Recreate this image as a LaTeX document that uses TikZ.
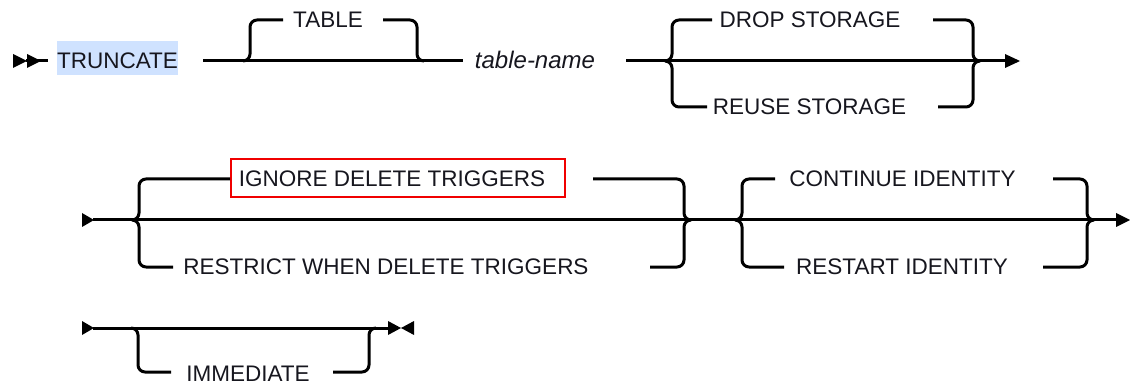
\documentclass[tikz,border=0pt]{standalone}
\usepackage{fontspec}
\setmainfont{Liberation Sans}
\definecolor{hl}{RGB}{207,226,255}
\definecolor{ink}{RGB}{22,22,30}
\definecolor{boxred}{RGB}{240,0,0}
\begin{document}
\begin{tikzpicture}[x=1pt,y=-1pt,
  rail/.style={line width=3pt, draw=black, line join=round},
  branch/.style={rail, rounded corners=7pt},
  tip/.style={fill=black, draw=none},
  lbl/.style={anchor=base, inner sep=0pt, text=ink, font=\fontsize{22.5}{26}\selectfont},
  vlbl/.style={anchor=base, inner sep=0pt, text=ink, font=\fontsize{24}{28}\selectfont\itshape}]
\useasboundingbox (0,0) rectangle (1130,382);

% ---------- Row 1 ----------
\coordinate (r1s) at (26,61);
\coordinate (r1a) at (48,61);
\fill[tip] (13,54) -- (13,68) -- (27,61) -- cycle;
\fill[tip] (27,54) -- (27,68) -- (41,61) -- cycle;
\draw[rail] (r1s) -- (r1a);
\fill[hl] (57,41) rectangle (178,75);
\node[lbl] (truncate) at (117.5,69) {TRUNCATE};

\coordinate (r1b) at (203,61);
\coordinate (r1c) at (463,61);
\draw[rail] (r1b) -- (r1c);
\node[lbl] (table) at (328,28) {TABLE};
\draw[branch] (243,61) -| (250,20) -- (283,20);
\draw[branch] (383,20) -| (417,61) -- (424,61);
\node[vlbl] (tname) at (535,69) {table-name};

\coordinate (r1d) at (626,61);
\coordinate (r1e) at (1006,61);
\draw[rail] (r1d) -- (r1e);
\fill[tip] (1005,54) -- (1005,68) -- (1020,61) -- cycle;
\node[lbl] (drop) at (810,28) {DROP STORAGE};
\node[lbl] (reuse) at (809.5,115) {REUSE STORAGE};
\draw[branch] (665,61) -| (672,20) -- (712,20);
\draw[branch] (665,61) -| (672,107) -- (707,107);
\draw[branch] (933,20) -| (973,61) -- (980,61);
\draw[branch] (938,107) -| (973,61) -- (980,61);

% ---------- Row 2 ----------
\coordinate (r2s) at (93,220);
\coordinate (r2e) at (1118,220);
\fill[tip] (82,213) -- (82,227) -- (94,220) -- cycle;
\draw[rail] (r2s) -- (r2e);
\fill[tip] (1116,213) -- (1116,227) -- (1130,220) -- cycle;

\draw[boxred, line width=2pt] (231,159) rectangle (565,197);
\node[lbl] (ignore) at (392,187) {IGNORE DELETE TRIGGERS};
\node[lbl] (restrict) at (386,275) {RESTRICT WHEN DELETE TRIGGERS};
\draw[branch] (132,220) -| (139,179) -- (230,179);
\draw[branch] (132,220) -| (139,267) -- (173,267);
\draw[branch] (593,179) -| (684,220) -- (691,220);
\draw[branch] (650,267) -| (684,220) -- (691,220);

\node[lbl] (continue) at (902.5,187) {CONTINUE IDENTITY};
\node[lbl] (restart) at (902,275) {RESTART IDENTITY};
\draw[branch] (735,220) -| (742,179) -- (775,179);
\draw[branch] (735,220) -| (742,267) -- (784,267);
\draw[branch] (1053,179) -| (1087,220) -- (1094,220);
\draw[branch] (1043,267) -| (1087,220) -- (1094,220);

% ---------- Row 3 ----------
\coordinate (r3s) at (93,328);
\coordinate (r3e) at (390,328);
\fill[tip] (82,321) -- (82,335) -- (94,328) -- cycle;
\draw[rail] (r3s) -- (r3e);
\fill[tip] (388,321) -- (388,335) -- (401,328) -- cycle;
\fill[tip] (414,321) -- (414,335) -- (401,328) -- cycle;
\node[lbl] (immediate) at (248,381) {IMMEDIATE};
\draw[branch] (131,328) -| (138,372) -- (171,372);
\draw[branch] (333,372) -| (369,328) -- (376,328);
\end{tikzpicture}
\end{document}
